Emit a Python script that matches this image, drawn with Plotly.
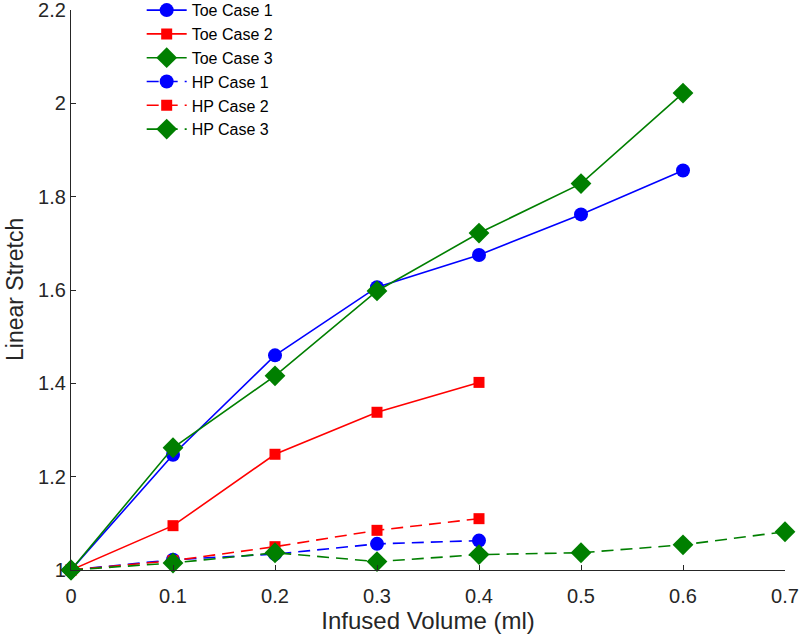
import plotly.graph_objects as go

x_toe1 = [0, 0.1, 0.2, 0.3, 0.4, 0.5, 0.6]
toe1 = [1.0, 1.247, 1.460, 1.606, 1.675, 1.762, 1.856]
x_toe2 = [0, 0.1, 0.2, 0.3, 0.4]
toe2 = [1.0, 1.095, 1.248, 1.338, 1.402]
x_toe3 = [0, 0.1, 0.2, 0.3, 0.4, 0.5, 0.6]
toe3 = [1.0, 1.262, 1.416, 1.598, 1.722, 1.828, 2.022]
x_hp1 = [0, 0.1, 0.2, 0.3, 0.4]
hp1 = [1.0, 1.022, 1.034, 1.056, 1.063]
x_hp2 = [0, 0.1, 0.2, 0.3, 0.4]
hp2 = [1.0, 1.02, 1.05, 1.085, 1.11]
x_hp3 = [0, 0.1, 0.2, 0.3, 0.4, 0.5, 0.6, 0.7]
hp3 = [1.0, 1.015, 1.037, 1.018, 1.033, 1.037, 1.054, 1.082]

BLUE = "#0000FF"
RED = "#FF0000"
GREEN = "#007F00"

series = [
    ("Toe Case 1", x_toe1, toe1, BLUE, "circle", 14, "solid"),
    ("Toe Case 2", x_toe2, toe2, RED, "square", 11, "solid"),
    ("Toe Case 3", x_toe3, toe3, GREEN, "diamond", 16, "solid"),
    ("HP Case 1", x_hp1, hp1, BLUE, "circle", 14, "12px,7px"),
    ("HP Case 2", x_hp2, hp2, RED, "square", 11, "12px,7px"),
    ("HP Case 3", x_hp3, hp3, GREEN, "diamond", 16, "12px,7px"),
]

fig = go.Figure()
for name, xs, ys, col, sym, sz, dash in series:
    fig.add_trace(go.Scatter(
        x=xs, y=ys, name=name, mode="lines+markers",
        line=dict(color=col, width=1.6, dash=dash),
        marker=dict(color=col, symbol=sym, size=sz, line=dict(width=0)),
        cliponaxis=False,
    ))

font_family = "Liberation Sans, Arial, sans-serif"
fig.update_layout(
    width=800, height=642,
    margin=dict(l=71, r=15, t=10, b=72, autoexpand=False),
    paper_bgcolor="white", plot_bgcolor="white",
    font=dict(family=font_family, size=20, color="#262626"),
    showlegend=True,
    legend=dict(x=0.099, y=1.030, xanchor="left", yanchor="top",
                bgcolor="rgba(255,255,255,0)", borderwidth=0,
                font=dict(size=16, color="#000000"),
                tracegroupgap=0, itemwidth=40),
    xaxis=dict(range=[0, 0.7], tickvals=[0, 0.1, 0.2, 0.3, 0.4, 0.5, 0.6, 0.7],
               ticktext=["0", "0.1", "0.2", "0.3", "0.4", "0.5", "0.6", "0.7"],
               ticks="inside", ticklen=5, tickcolor="#262626",
               ticklabelstandoff=8, ticklabeloverflow="allow",
               showline=True, linecolor="#262626", linewidth=1.2,
               showgrid=False, zeroline=False,
               title=dict(text="Infused Volume (ml)", font=dict(size=24), standoff=5)),
    yaxis=dict(range=[1, 2.2], tickvals=[1, 1.2, 1.4, 1.6, 1.8, 2, 2.2],
               ticktext=["1", "1.2", "1.4", "1.6", "1.8", "2", "2.2"],
               ticks="inside", ticklen=5, tickcolor="#262626",
               ticklabeloverflow="allow",
               showline=True, linecolor="#262626", linewidth=1.2,
               showgrid=False, zeroline=False),
    annotations=[dict(text="Linear Stretch", textangle=-90, showarrow=False,
                      xref="paper", yref="paper", x=0, y=0.5,
                      xanchor="center", yanchor="middle", xshift=-56,
                      font=dict(size=23, color="#262626"))],
)

fig.write_html("out.html")
